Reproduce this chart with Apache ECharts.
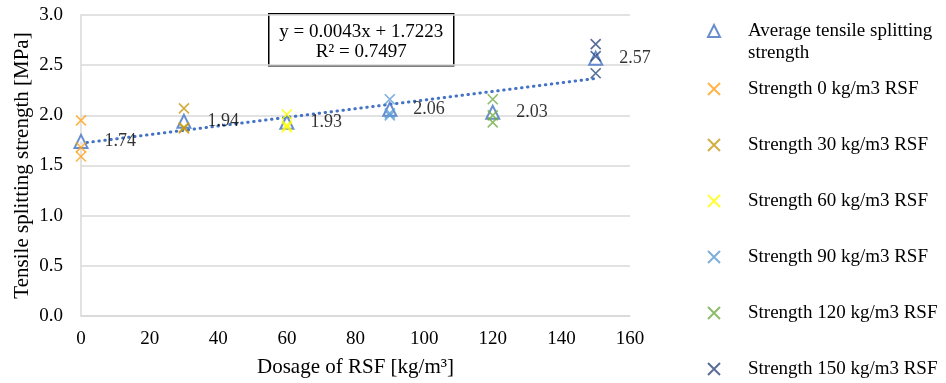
<!DOCTYPE html>
<html>
<head>
<meta charset="utf-8">
<script src="https://cdn.jsdelivr.net/npm/echarts@6/dist/echarts.min.js"></script>
<style>html,body{margin:0;padding:0;background:#fff;}#chart{width:946px;height:383px;}</style>
</head>
<body>
<div id="chart"></div>
<script>
// ---- data ----
const dosages = [0, 30, 60, 90, 120, 150];
const averageStrength = [1.74, 1.94, 1.93, 2.06, 2.03, 2.57];
const strength0 = [1.95, 1.68, 1.59];
const strength30 = [2.07, 1.87, 1.88];
const strength60 = [2.01, 1.90, 1.88];
const strength90 = [2.16, 2.02, 2.00];
const strength120 = [2.16, 2.00, 1.93];
const strength150 = [2.71, 2.59, 2.42];
const trendSlope = 0.0043;
const trendIntercept = 1.7223;
const trendR2 = 0.7497;
const trendRange = [0, 150];
const xTicks = [0, 20, 40, 60, 80, 100, 120, 140, 160];
const yTicks = [0.0, 0.5, 1.0, 1.5, 2.0, 2.5, 3.0];
const avgName = 'Average tensile splitting strength';
const strengthNames = ['Strength 0 kg/m3 RSF','Strength 30 kg/m3 RSF','Strength 60 kg/m3 RSF','Strength 90 kg/m3 RSF','Strength 120 kg/m3 RSF','Strength 150 kg/m3 RSF'];
const strengthSets = [strength0, strength30, strength60, strength90, strength120, strength150];

// ---- styles ----
const FONT = "'Liberation Serif','Times New Roman',serif";
const crossColors = ['#FFA31A', '#C59A12', '#FFFF00', '#5B9BD5', '#70AD47', '#2E4A7D'];
const avgColor = '#4472C4';
const crossPath = 'path://M0,0L10,10M10,0L0,10';

const crossSeries = strengthSets.map((vals, i) => ({
  name: strengthNames[i],
  type: 'scatter',
  symbol: crossPath,
  symbolSize: 10,
  z: 3,
  itemStyle: { color: 'rgba(0,0,0,0)', borderColor: crossColors[i], borderWidth: 1.6 },
  data: vals.map(v => [dosages[i], v])
}));

const trendData = trendRange.map(x => [x, trendSlope * x + trendIntercept]);

const chart = echarts.init(document.getElementById('chart'), null, { renderer: 'canvas' });
chart.setOption({
  animation: false,
  backgroundColor: '#fff',
  textStyle: { fontFamily: FONT },
  grid: { left: 81, right: 316, top: 15, bottom: 67 },
  xAxis: {
    type: 'value', min: xTicks[0], max: xTicks[xTicks.length - 1], interval: 20,
    name: 'Dosage of RSF [kg/m³]', nameLocation: 'middle', nameGap: 41, nameMoveOverlap: false,
    nameTextStyle: { fontFamily: FONT, fontSize: 21, color: '#000' },
    axisLine: { show: true, lineStyle: { color: '#D9D9D9', width: 1.5 } },
    axisTick: { show: false },
    splitLine: { show: false },
    axisLabel: { fontFamily: FONT, fontSize: 19, color: '#000', margin: 14 }
  },
  yAxis: {
    type: 'value', min: yTicks[0], max: yTicks[yTicks.length - 1], interval: 0.5,
    name: 'Tensile splitting strength [MPa]', nameLocation: 'middle', nameGap: 48, nameMoveOverlap: false,
    nameTextStyle: { fontFamily: FONT, fontSize: 21, color: '#000' },
    axisLine: { show: true, lineStyle: { color: '#D9D9D9', width: 1.5 } },
    axisTick: { show: false },
    splitLine: { show: true, lineStyle: { color: '#D9D9D9', width: 1.5 } },
    axisLabel: { fontFamily: FONT, fontSize: 19, color: '#000', margin: 18, formatter: v => v.toFixed(1) }
  },
  legend: [
    {
      orient: 'vertical', left: 707, top: -2, padding: 0,
      itemWidth: 12, itemHeight: 12,
      data: [{ name: avgName, icon: 'emptyTriangle' }],
      formatter: () => '\nAverage tensile splitting\nstrength',
      textStyle: { fontFamily: FONT, fontSize: 19, color: '#000', lineHeight: 22, padding: [0, 0, 0, 23] }
    },
    {
      orient: 'vertical', left: 707, top: 78, padding: 0, itemGap: 34,
      itemWidth: 12, itemHeight: 12,
      data: strengthNames,
      textStyle: { fontFamily: FONT, fontSize: 19, color: '#000', lineHeight: 22, padding: [0, 0, 0, 23] }
    }
  ],
  series: [
    {
      name: 'trend', type: 'line', data: trendData, symbol: 'none', silent: true, z: 1,
      lineStyle: { color: avgColor, width: 3, type: [0.5, 5.5], cap: 'round' }
    },
    {
      name: avgName, type: 'scatter', symbol: 'emptyTriangle', symbolSize: 13, z: 2,
      itemStyle: { color: avgColor, borderColor: avgColor, borderWidth: 1.6 },
      label: { show: true, position: 'right', distance: 16, fontFamily: FONT, fontSize: 18, color: '#000',
        formatter: p => p.value[1].toFixed(2) },
      data: averageStrength.map((v, i) => [dosages[i], v])
    }
  ].concat(crossSeries),
  graphic: [
    {
      type: 'group', left: 268, top: 13,
      children: [
        { type: 'rect', shape: { x: 0, y: 0, width: 185, height: 52 }, style: { fill: '#fff', stroke: '#000', lineWidth: 1.5 } },
        { type: 'text', x: 92.5, y: 18, style: { text: 'y = ' + trendSlope + 'x + ' + trendIntercept, font: '19px ' + FONT, fill: '#000', align: 'center', verticalAlign: 'middle' } },
        { type: 'text', x: 92.5, y: 38, style: { text: 'R² = ' + trendR2, font: '19px ' + FONT, fill: '#000', align: 'center', verticalAlign: 'middle' } }
      ]
    }
  ]
});
</script>
</body>
</html>
